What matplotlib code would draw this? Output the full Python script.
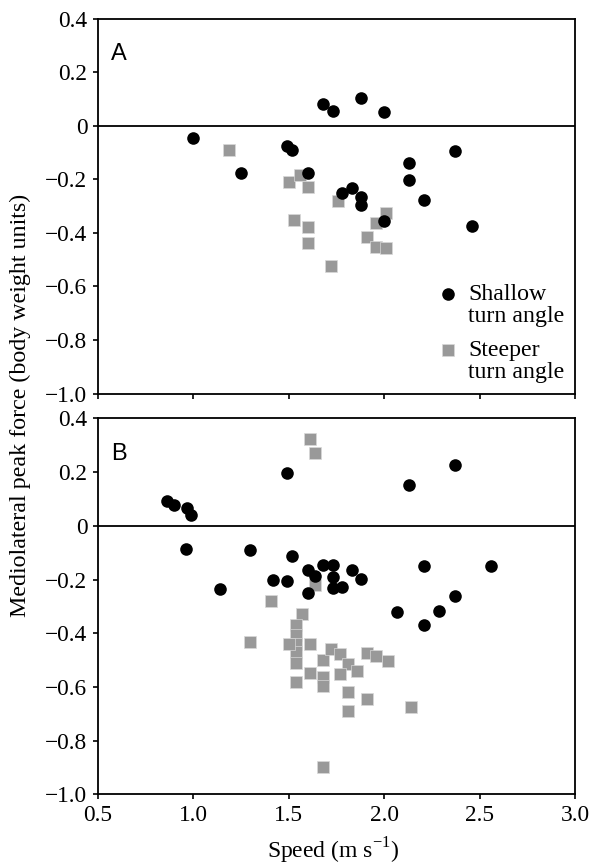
import matplotlib
matplotlib.use("Agg")
import matplotlib.pyplot as plt
from matplotlib.ticker import FixedLocator, FixedFormatter

plt.rcParams['font.family'] = ['Liberation Serif', 'DejaVu Serif']
plt.rcParams['mathtext.fontset'] = 'custom'
plt.rcParams['mathtext.rm'] = 'Liberation Serif'

# Panel A: shallow turn angle (circles)
a_shallow_speed = [1.00, 1.25, 1.49, 1.52, 1.60, 1.68, 1.73, 1.88, 2.00, 1.78,
                   1.83, 1.88, 1.88, 2.00, 2.13, 2.13, 2.21, 2.37, 2.46]
a_shallow_force = [-0.046, -0.174, -0.074, -0.091, -0.174, 0.083, 0.056, 0.103, 0.051, -0.249,
                   -0.231, -0.265, -0.294, -0.354, -0.137, -0.203, -0.275, -0.093, -0.374]
# Panel A: steeper turn angle (squares)
a_steep_speed = [1.19, 1.50, 1.56, 1.60, 1.76, 1.53, 1.60, 1.60, 1.72, 1.96,
                 2.01, 1.91, 1.96, 2.01]
a_steep_force = [-0.090, -0.208, -0.183, -0.227, -0.280, -0.353, -0.378, -0.439, -0.522, -0.361,
                 -0.326, -0.415, -0.451, -0.457]

# Panel B: shallow turn angle (circles)
b_shallow_speed = [0.865, 0.90, 0.97, 0.99, 0.96, 1.14, 1.30, 1.42, 1.49, 1.49,
                   1.52, 1.60, 1.60, 1.64, 1.68, 1.73, 1.73, 1.73, 1.78, 1.83,
                   1.88, 2.07, 2.13, 2.21, 2.21, 2.29, 2.37, 2.37, 2.56]
b_shallow_force = [0.093, 0.077, 0.068, 0.041, -0.086, -0.235, -0.091, -0.202, -0.207, 0.196,
                   -0.113, -0.165, -0.250, -0.188, -0.147, -0.147, -0.191, -0.231, -0.226, -0.165,
                   -0.199, -0.320, 0.154, -0.150, -0.368, -0.317, 0.225, -0.261, -0.150]
# Panel B: steeper turn angle (squares)
b_steep_speed = [1.61, 1.64, 1.64, 1.41, 1.57, 1.54, 1.54, 1.54, 1.54, 1.50,
                 1.61, 1.30, 1.54, 1.54, 1.61, 1.68, 1.68, 1.68, 1.72, 1.77,
                 1.81, 1.86, 1.77, 1.91, 1.96, 2.02, 1.81, 1.91, 1.81, 2.14,
                 1.68]
b_steep_force = [0.323, 0.272, -0.220, -0.279, -0.329, -0.369, -0.405, -0.440, -0.470, -0.438,
                 -0.438, -0.432, -0.511, -0.580, -0.546, -0.500, -0.561, -0.598, -0.458, -0.476,
                 -0.515, -0.540, -0.551, -0.474, -0.486, -0.503, -0.619, -0.644, -0.689, -0.673,
                 -0.896]

y_ticks = [0.4, 0.2, 0, -0.2, -0.4, -0.6, -0.8, -1.0]
y_tick_labels = ['0.4', '0.2', '0', '\u22120.2', '\u22120.4', '\u22120.6', '\u22120.8', '\u22121.0']
x_ticks = [0.5, 1.0, 1.5, 2.0, 2.5, 3.0]
x_tick_labels = ['0.5', '1.0', '1.5', '2.0', '2.5', '3.0']

fig = plt.figure(figsize=(5.92, 8.66), dpi=100)
ax_a = fig.add_axes([0.165, 0.5456, 0.8063, 0.4325])
ax_b = fig.add_axes([0.165, 0.0826, 0.8063, 0.4342])

panels = [
    (ax_a, 'A', a_shallow_speed, a_shallow_force, a_steep_speed, a_steep_force),
    (ax_b, 'B', b_shallow_speed, b_shallow_force, b_steep_speed, b_steep_force),
]

for ax, letter, xs, ys, xq, yq in panels:
    ax.axhline(0, color='black', lw=1.3, zorder=1)
    ax.scatter(xq, yq, marker='s', s=68, color='#999999', edgecolors='#d8d8d8',
               linewidths=0.5, zorder=2, label='Steeper\nturn angle')
    ax.scatter(xs, ys, marker='o', s=82, color='black', linewidths=0,
               zorder=3, label='Shallow\nturn angle')
    ax.set_xlim(0.5, 3.0)
    ax.set_ylim(-1.0, 0.4)
    ax.yaxis.set_major_locator(FixedLocator(y_ticks))
    ax.yaxis.set_major_formatter(FixedFormatter(y_tick_labels))
    ax.xaxis.set_major_locator(FixedLocator(x_ticks))
    ax.tick_params(direction='out', length=3.5, width=1.2, labelsize=16.8, pad=4)
    for sp in ax.spines.values():
        sp.set_linewidth(1.3)
    ax.text(0.028, 0.89, letter, transform=ax.transAxes, fontsize=17,
            family=['Liberation Sans', 'DejaVu Sans'], ha='left', va='baseline')

ax_a.set_xticklabels([])
ax_b.xaxis.set_major_formatter(FixedFormatter(x_tick_labels))
fig.text(0.563, 0.0085, 'Speed (m s$^{\u22121}$)', fontsize=17,
         ha='center', va='baseline')

handles, labels = ax_a.get_legend_handles_labels()
leg = ax_a.legend(handles[::-1], labels[::-1], loc='lower right', frameon=False,
                  fontsize=17.2, handletextpad=0.45, handlelength=0.8,
                  labelspacing=0.55, borderaxespad=0.05, bbox_to_anchor=(1.0, 0.0))
for t in leg.get_texts():
    t.set_linespacing(1.05)
for col in leg._legend_handle_box.get_children():
    for row in col.get_children():
        row.align = 'top'

fig.text(0.034, 0.532, 'Mediolateral peak force (body weight units)', rotation=90,
         ha='center', va='center', fontsize=17.3)

fig.savefig('out.png', dpi=100)
